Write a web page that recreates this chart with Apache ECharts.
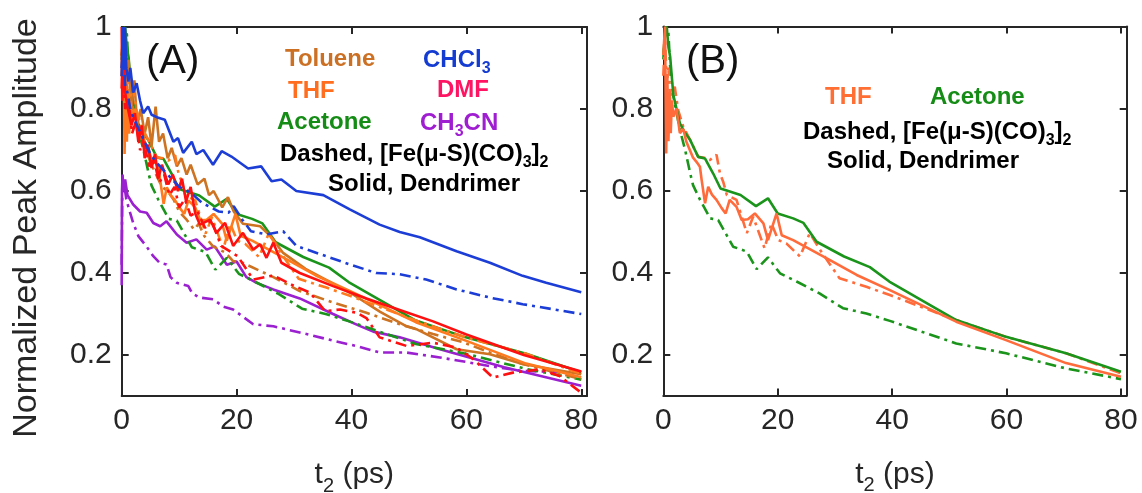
<!DOCTYPE html>
<html><head><meta charset="utf-8">
<script src="https://cdn.jsdelivr.net/npm/echarts@6/dist/echarts.min.js"></script>
<style>html,body{margin:0;padding:0;background:#fff}#c{width:1142px;height:493px}</style>
</head><body><div id="c"></div><script>
// ---- data (t2 in ps, normalized peak amplitude) ----
const xTicks = [0, 20, 40, 60, 80];
const yTicks = [0.2, 0.4, 0.6, 0.8, 1];

const thfSolid = [[0,0.93],[0.3,1.0],[0.5,0.69],[0.7,0.88],[0.9,0.72],[1.1,0.84],[1.3,0.74],[1.5,0.82],[1.75,0.78],[2.3,0.8],[2.9,0.74],[3.5,0.75],[4.0,0.72],[4.6,0.7],[5.2,0.68],[5.8,0.67],[6.4,0.658],[6.7,0.626],[7.3,0.569],[7.85,0.609],[8.5,0.59],[9.3,0.577],[10.2,0.557],[10.9,0.544],[11.6,0.577],[12.8,0.56],[13.7,0.528],[14.8,0.53],[16.0,0.544],[17.5,0.52],[18.3,0.479],[19.8,0.544],[20.7,0.491],[22.7,0.479],[28.5,0.435],[33.8,0.394],[39.6,0.357],[51.2,0.28],[59.9,0.235],[70.4,0.179],[80,0.146]];
const thfDash = [[0,0.88],[0.3,0.97],[0.6,0.86],[0.9,0.9],[1.2,0.82],[1.45,0.83],[2.0,0.853],[2.6,0.796],[3.5,0.755],[4.7,0.723],[6.1,0.682],[7.2,0.68],[8.1,0.674],[9.3,0.687],[9.9,0.642],[10.5,0.62],[11.1,0.589],[12.8,0.577],[14.6,0.496],[15.7,0.536],[17.7,0.459],[18.9,0.52],[20.1,0.479],[21.5,0.471],[23.9,0.439],[25.6,0.496],[27.6,0.451],[30.8,0.386],[35.5,0.365],[39.6,0.345],[51.2,0.284],[59.9,0.243],[70.4,0.203],[80,0.154]];
const acetoneSolid = [[0,0.93],[0.3,0.98],[0.6,1.0],[0.9,0.95],[1.2,0.926],[1.75,0.833],[2.3,0.8],[2.9,0.764],[3.8,0.74],[4.7,0.723],[6.1,0.682],[7.3,0.678],[8.7,0.642],[10.0,0.605],[13.5,0.589],[16.2,0.562],[18.3,0.581],[20.0,0.544],[22.7,0.532],[24.5,0.521],[26.8,0.475],[31.6,0.439],[36.1,0.413],[39.5,0.378],[51.2,0.284],[59.9,0.243],[70.4,0.203],[80,0.158]];
const acetoneDash = [[0,0.92],[0.4,1.0],[0.9,0.983],[1.2,0.9],[1.75,0.83],[2.9,0.748],[3.8,0.7],[4.7,0.642],[5.2,0.613],[6.4,0.578],[8.2,0.532],[9.6,0.528],[12.2,0.463],[14.6,0.451],[16.3,0.408],[18.3,0.437],[20.4,0.398],[23.3,0.378],[27.3,0.349],[31.4,0.313],[35.5,0.30],[39.6,0.282],[51.2,0.227],[59.9,0.203],[70.4,0.166],[80,0.14]];
const chcl3Solid = [[0,0.88],[0.2,1.0],[0.4,0.9],[0.57,1.0],[0.8,0.9],[1.15,0.867],[1.5,0.9],[2.0,0.84],[2.6,0.863],[3.2,0.82],[3.75,0.79],[4.6,0.806],[5.2,0.786],[6.1,0.78],[7.5,0.774],[9.0,0.72],[9.8,0.729],[10.7,0.693],[12.2,0.72],[13.0,0.69],[14.2,0.70],[15.9,0.664],[17.4,0.697],[19.1,0.684],[22.0,0.655],[24.3,0.66],[26.1,0.624],[27.8,0.628],[30.4,0.60],[35.1,0.59],[39.7,0.555],[44.9,0.518],[48.4,0.50],[51.9,0.487],[58.3,0.453],[64.1,0.425],[69.8,0.393],[73.9,0.376],[80,0.353]];
const chcl3Dash = [[0,0.9],[0.3,0.95],[0.6,0.86],[1,0.84],[1.5,0.8],[2,0.78],[3,0.75],[4,0.72],[5,0.69],[6,0.67],[7,0.655],[8,0.64],[9,0.625],[10,0.61],[11.5,0.6],[12.5,0.59],[14,0.571],[16.9,0.55],[18.6,0.547],[19.5,0.563],[21,0.53],[22.5,0.502],[25.2,0.494],[28.1,0.502],[30.4,0.466],[35.6,0.441],[39.7,0.421],[44.3,0.40],[48.4,0.397],[53,0.384],[58.3,0.36],[64.1,0.34],[69.8,0.324],[80,0.30]];
const tolueneSolid = [[0,0.9],[0.2,0.97],[0.7,0.86],[1.2,0.92],[1.7,0.8],[2.2,0.87],[2.7,0.76],[3.3,0.8],[4.0,0.74],[4.6,0.78],[5.2,0.71],[5.9,0.806],[6.5,0.72],[7.2,0.74],[8.0,0.68],[8.7,0.705],[9.6,0.66],[10.4,0.68],[11.3,0.64],[12.0,0.664],[13.2,0.616],[14.4,0.63],[15.2,0.59],[16.0,0.6],[17.5,0.56],[18.5,0.585],[19.5,0.55],[21.1,0.52],[24.1,0.514],[25.9,0.49],[28.1,0.449],[32,0.41],[36,0.38],[40,0.35],[45,0.305],[49.6,0.27],[51.3,0.263],[58.3,0.214],[64.1,0.202],[69.8,0.178],[80,0.153]];
const tolueneDash = [[0,0.88],[0.3,0.93],[1,0.85],[2,0.8],[3,0.74],[4,0.71],[5,0.67],[6,0.64],[7,0.61],[8,0.6],[9,0.58],[10,0.55],[11.3,0.53],[12.6,0.506],[13.4,0.52],[14.4,0.49],[15.9,0.465],[18,0.45],[19.4,0.429],[21,0.425],[24.1,0.405],[26.4,0.39],[31,0.356],[36.8,0.328],[42.6,0.303],[48.4,0.275],[54.2,0.251],[59.2,0.232],[64.1,0.206],[69.8,0.178],[80,0.141]];
const dmfSolid = [[0,1.0],[0.1,0.82],[0.3,0.96],[0.6,0.84],[1.1,0.8],[1.7,0.76],[2.3,0.79],[2.9,0.72],[3.5,0.76],[4.0,0.68],[4.6,0.713],[5.2,0.656],[5.8,0.69],[6.4,0.632],[7.0,0.664],[8.1,0.616],[8.9,0.64],[9.8,0.60],[10.5,0.63],[11.2,0.575],[12.0,0.61],[12.8,0.545],[13.6,0.518],[15.4,0.53],[16.5,0.498],[18.0,0.522],[19.4,0.466],[21.1,0.498],[22.9,0.457],[24.1,0.47],[25.2,0.437],[26.4,0.474],[27.8,0.425],[31.0,0.40],[36.8,0.368],[42.6,0.338],[48.4,0.31],[54.2,0.282],[60,0.25],[70,0.2],[80,0.16]];
const dmfDash = [[0,0.85],[0.2,0.92],[0.6,0.8],[1.2,0.82],[1.8,0.74],[2.5,0.77],[3.2,0.7],[4,0.72],[4.8,0.66],[5.6,0.68],[6.5,0.62],[7.4,0.64],[8.3,0.59],[9.2,0.61],[10,0.56],[11,0.58],[12,0.54],[13.2,0.55],[14.5,0.51],[15.6,0.53],[17.3,0.466],[20.2,0.441],[22.9,0.384],[26.4,0.394],[29.8,0.37],[32.8,0.352],[35.4,0.307],[38,0.311],[40.9,0.303],[42.6,0.29],[44.9,0.243],[49.6,0.222],[54.2,0.23],[58.3,0.218],[61.2,0.19],[64.6,0.145],[68.1,0.157],[72.8,0.165],[76.2,0.149],[80,0.108]];
const ch3cnSolid = [[0,0.37],[0.05,0.6],[0.15,0.64],[0.3,0.6],[0.6,0.628],[1.0,0.59],[2.0,0.567],[3.2,0.55],[4.35,0.547],[5.5,0.522],[6.7,0.514],[7.8,0.526],[9.6,0.494],[11.3,0.474],[13.0,0.482],[14.8,0.457],[16.2,0.465],[18.3,0.42],[20.0,0.428],[21.7,0.39],[23.5,0.376],[26.4,0.36],[31,0.338],[36.8,0.30],[41.4,0.271],[43.8,0.257],[48.4,0.243],[55.4,0.214],[66.6,0.17],[80,0.125]];
const ch3cnDash = [[0,0.42],[0.1,0.6],[0.3,0.63],[0.8,0.58],[1.4,0.55],[2.0,0.522],[2.9,0.49],[4.3,0.465],[5.5,0.441],[6.6,0.425],[7.8,0.421],[8.5,0.39],[9.6,0.376],[11.6,0.368],[12.3,0.35],[13.6,0.34],[15.9,0.336],[17.7,0.318],[19.4,0.311],[22.9,0.275],[26.4,0.27],[31,0.255],[36.8,0.235],[41.4,0.22],[44.9,0.206],[49.6,0.206],[55.4,0.194],[64.1,0.173],[69.8,0.161],[80,0.157]];

// ---- styling ----
const AX = '#262626';
const FONT = '"Liberation Sans", Arial, sans-serif';
const C = {
  toluene: '#CD7322', thf: '#FF7A1E', acetone: '#1A941A', chcl3: '#1C3ED6',
  dmf: '#FF1010', ch3cn: '#9A20D0', thfB: '#FF6B3A'
};
const DASH = [11, 5, 3, 5];

const chart = echarts.init(document.getElementById('c'), null, {renderer: 'canvas'});

function xAx(grid, pos, name) {
  return {
    gridIndex: grid, type: 'value', min: 0, max: 81, position: pos,
    axisLine: {show: true, onZero: false, lineStyle: {color: AX, width: 2}},
    axisTick: {show: true, inside: true, length: 7, customValues: xTicks, lineStyle: {color: AX, width: 2}},
    axisLabel: {show: pos === 'bottom', customValues: xTicks, fontSize: 30, color: AX, fontFamily: FONT, margin: 10},
    splitLine: {show: false},
    name: name ? 't{s|2} (ps)' : '', nameLocation: 'middle', nameGap: 58,
    nameTextStyle: {fontSize: 30, color: AX, fontFamily: FONT, lineHeight: 42,
      rich: {s: {fontSize: 20, lineHeight: 20, verticalAlign: 'bottom', color: AX, fontFamily: FONT}}}
  };
}
function yAx(grid, pos) {
  return {
    gridIndex: grid, type: 'value', min: 0.1, max: 1.0, position: pos,
    axisLine: {show: true, onZero: false, lineStyle: {color: AX, width: 2}},
    axisTick: {show: true, inside: true, length: 7, customValues: yTicks, lineStyle: {color: AX, width: 2}},
    axisLabel: {show: pos === 'left', customValues: yTicks, fontSize: 30, color: AX, fontFamily: FONT, margin: 10,
      formatter: v => (Math.abs(v - 1) < 1e-9 ? '1' : (Math.round(v * 10) / 10).toFixed(1))},
    splitLine: {show: false}
  };
}
function ln(data, color, dashed, ax) {
  return {
    type: 'line', data: data, xAxisIndex: ax, yAxisIndex: ax, showSymbol: false, symbol: 'none',
    lineStyle: {color: color, width: 2.6, type: dashed ? DASH : 'solid'}, animation: false, silent: true
  };
}
function txt(x, y, text, color, size, weight, rich) {
  return {
    type: 'text', x: x, y: y, silent: true,
    style: {text: text, fill: color, fontSize: size, fontWeight: weight || 'bold', fontFamily: FONT,
      align: 'left', verticalAlign: 'middle', rich: rich}
  };
}
function subRich(color) {
  return {
    m: {fontSize: 24, fontWeight: 'bold', fill: color, fontFamily: FONT, lineHeight: 34},
    s: {fontSize: 16, fontWeight: 'bold', fill: color, fontFamily: FONT, lineHeight: 16, verticalAlign: 'bottom'}
  };
}

chart.setOption({
  animation: false,
  backgroundColor: '#fff',
  grid: [
    {left: 121.7, top: 27, width: 465.3, height: 369, outerBoundsMode: 'none'},
    {left: 663.3, top: 26.5, width: 463.4, height: 369, outerBoundsMode: 'none'}
  ],
  xAxis: [xAx(0, 'bottom', true), xAx(0, 'top', false), xAx(1, 'bottom', true), xAx(1, 'top', false)],
  yAxis: [yAx(0, 'left'), yAx(0, 'right'), yAx(1, 'left'), yAx(1, 'right')],
  series: [
    ln(ch3cnDash, C.ch3cn, true, 0), ln(ch3cnSolid, C.ch3cn, false, 0),
    ln(acetoneDash, C.acetone, true, 0), ln(acetoneSolid, C.acetone, false, 0),
    ln(tolueneDash, C.toluene, true, 0), ln(tolueneSolid, C.toluene, false, 0),
    ln(thfDash, C.thf, true, 0), ln(thfSolid, C.thf, false, 0),
    ln(dmfDash, C.dmf, true, 0), ln(dmfSolid, C.dmf, false, 0),
    ln(chcl3Dash, C.chcl3, true, 0), ln(chcl3Solid, C.chcl3, false, 0),
    ln(acetoneDash, C.acetone, true, 2), ln(thfDash, C.thfB, true, 2),
    ln(acetoneSolid, C.acetone, false, 2), ln(thfSolid, C.thfB, false, 2)
  ],
  graphic: [
    {type: 'text', x: 27, y: 228, rotation: Math.PI / 2, silent: true,
      style: {text: 'Normalized Peak Amplitude', fill: AX, fontSize: 34, fontFamily: FONT, align: 'center', verticalAlign: 'middle'}},
    txt(146, 62, '(A)', '#111', 40, 'normal'),
    txt(686, 62, '(B)', '#111', 40, 'normal'),
    txt(285, 59, 'Toluene', '#CC7024', 24),
    txt(423, 60, '{m|CHCl}{s|3}', '#143CD2', 24, 'bold', subRich('#143CD2')),
    txt(288, 91, 'THF', '#FF6E1E', 24),
    txt(437, 90, 'DMF', '#FF1464', 24),
    txt(277, 122, 'Acetone', '#158C15', 24),
    txt(420, 123, '{m|CH}{s|3}{m|CN}', '#A01ED2', 24, 'bold', subRich('#A01ED2')),
    txt(280, 154, '{m|Dashed, [Fe(μ-S)(CO)}{s|3}{m|]}{s|2}', '#000', 24, 'bold', subRich('#000')),
    txt(328, 184, 'Solid, Dendrimer', '#000', 24),
    txt(825, 97, 'THF', '#FF6E32', 24),
    txt(930, 97, 'Acetone', '#158C15', 24),
    txt(803, 132, '{m|Dashed, [Fe(μ-S)(CO)}{s|3}{m|]}{s|2}', '#000', 24, 'bold', subRich('#000')),
    txt(827, 161, 'Solid, Dendrimer', '#000', 24)
  ]
});
</script></body></html>
